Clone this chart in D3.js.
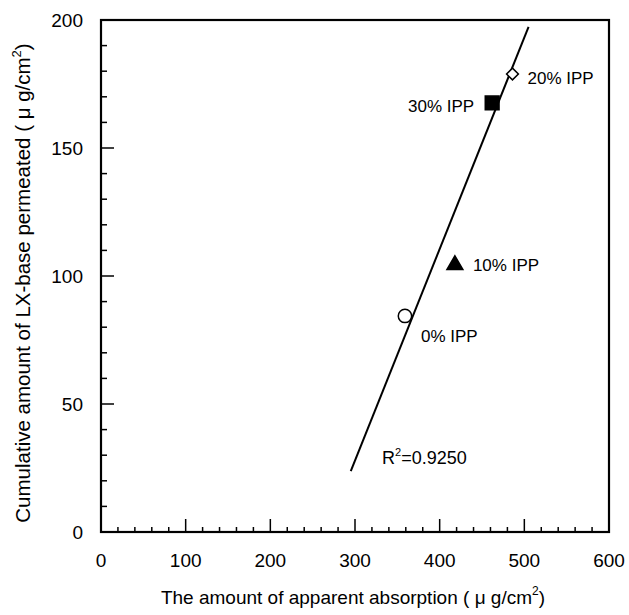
<!DOCTYPE html>
<html>
<head>
<meta charset="utf-8">
<script src="https://cdn.jsdelivr.net/npm/d3@7"></script>
<style>
    body { margin: 0; background: #fff; }
    text { font-family: "Liberation Sans", Arial, sans-serif; fill: #000; }
</style>
</head>
<body>
<div id="chart"></div>
<script>
// data
var labels = ["0% IPP", "10% IPP", "20% IPP", "30% IPP"];
var absorption = [359, 418, 486, 462];
var permeated = [84.4, 104.3, 178.9, 167.6];
var shapes = ["circle", "triangle", "diamond", "square"];

// regression line end points
var fitX = [295, 505];
var fitY = [23.8, 197.3];
var r2Text = "0.9250";

var xTicks = [0, 100, 200, 300, 400, 500, 600];
var yTicks = [0, 50, 100, 150, 200];
var xMinor = d3.range(0, 601, 20);
var yMinor = d3.range(0, 201, 10);

var svgWidth = 629;
var svgHeight = 615;
var margin = { top: 20, right: 20, bottom: 83, left: 101 };
var width = svgWidth - margin.left - margin.right;
var height = svgHeight - margin.top - margin.bottom;

var svg = d3.select("#chart")
    .append("svg")
    .attr("width", svgWidth)
    .attr("height", svgHeight);

var chartGroup = svg.append("g")
    .attr("transform", `translate(${margin.left}, ${margin.top})`);

var xLinearScale = d3.scaleLinear().domain([0, 600]).range([0, width]);
var yLinearScale = d3.scaleLinear().domain([0, 200]).range([height, 0]);

// inward ticks: minor every 20 / 10, major every 100 / 50
chartGroup.selectAll(".xtick")
    .data(xMinor)
    .enter()
    .append("line")
    .attr("x1", d => xLinearScale(d))
    .attr("x2", d => xLinearScale(d))
    .attr("y1", height)
    .attr("y2", d => height - (d % 100 === 0 ? 13 : 5))
    .attr("stroke", "#000")
    .attr("stroke-width", 1.5);
chartGroup.selectAll(".ytick")
    .data(yMinor)
    .enter()
    .append("line")
    .attr("x1", 0)
    .attr("x2", d => (d % 50 === 0 ? 13 : 6))
    .attr("y1", d => yLinearScale(d))
    .attr("y2", d => yLinearScale(d))
    .attr("stroke", "#000")
    .attr("stroke-width", 1.5);

// tick labels
chartGroup.selectAll(".xlab")
    .data(xTicks)
    .enter()
    .append("text")
    .attr("x", d => xLinearScale(d))
    .attr("y", height + 35)
    .attr("text-anchor", "middle")
    .style("font-size", "19px")
    .text(d => d);
chartGroup.selectAll(".ylab")
    .data(yTicks)
    .enter()
    .append("text")
    .attr("x", -18)
    .attr("y", d => yLinearScale(d) + 7)
    .attr("text-anchor", "end")
    .style("font-size", "19px")
    .text(d => d);

// frame
chartGroup.append("rect")
    .attr("width", width)
    .attr("height", height)
    .attr("fill", "none")
    .attr("stroke", "#000")
    .attr("stroke-width", 2.2);

// regression line
chartGroup.append("line")
    .attr("x1", xLinearScale(fitX[0]))
    .attr("y1", yLinearScale(fitY[0]))
    .attr("x2", xLinearScale(fitX[1]))
    .attr("y2", yLinearScale(fitY[1]))
    .attr("stroke", "#000")
    .attr("stroke-width", 2);

// markers
var symbolType = {
    circle: d3.symbolCircle,
    triangle: d3.symbolTriangle,
    diamond: d3.symbolSquare,
    square: d3.symbolSquare
};
var symbolSize = { circle: 140, triangle: 110, diamond: 70, square: 190 };
var symbolFill = { circle: "#fff", triangle: "#000", diamond: "#fff", square: "#000" };

chartGroup.selectAll(".marker")
    .data(d3.range(labels.length))
    .enter()
    .append("path")
    .attr("d", i => d3.symbol().type(symbolType[shapes[i]]).size(symbolSize[shapes[i]])())
    .attr("transform", i => `translate(${xLinearScale(absorption[i])}, ${yLinearScale(permeated[i])})` +
        (shapes[i] === "diamond" ? "rotate(45)" : ""))
    .attr("fill", i => symbolFill[shapes[i]])
    .attr("stroke", "#000")
    .attr("stroke-width", 1.5);

// point labels (offsets in px from the marker)
var labelDx = [16, 18, 15, -18];
var labelDy = [26, 6, 10, 9];
var labelAnchor = ["start", "start", "start", "end"];
chartGroup.selectAll(".plabel")
    .data(d3.range(labels.length))
    .enter()
    .append("text")
    .attr("x", i => xLinearScale(absorption[i]) + labelDx[i])
    .attr("y", i => yLinearScale(permeated[i]) + labelDy[i])
    .attr("text-anchor", i => labelAnchor[i])
    .style("font-size", "17px")
    .text(i => labels[i]);

// R^2 label
var r2 = chartGroup.append("text")
    .attr("x", xLinearScale(332))
    .attr("y", yLinearScale(26.5))
    .style("font-size", "18px");
r2.append("tspan").text("R");
r2.append("tspan").attr("dy", -8).style("font-size", "11px").text("2");
r2.append("tspan").attr("dy", 8).text("=" + r2Text);

// axis titles
var xTitle = svg.append("text")
    .attr("x", margin.left + width / 2 - 2)
    .attr("y", 604)
    .attr("text-anchor", "middle")
    .style("font-size", "19px");
xTitle.append("tspan").text("The amount of apparent absorption ( \u03bc g/cm");
xTitle.append("tspan").attr("dy", -9).style("font-size", "12px").text("2");
xTitle.append("tspan").attr("dy", 9).text(")");

var yTitle = svg.append("text")
    .attr("transform", "translate(30, 283) rotate(-90)")
    .attr("text-anchor", "middle")
    .style("font-size", "20.5px");
yTitle.append("tspan").text("Cumulative amount of LX-base permeated ( \u03bc g/cm");
yTitle.append("tspan").attr("dy", -9).style("font-size", "13px").text("2");
yTitle.append("tspan").attr("dy", 9).text(")");
</script>
</body>
</html>
